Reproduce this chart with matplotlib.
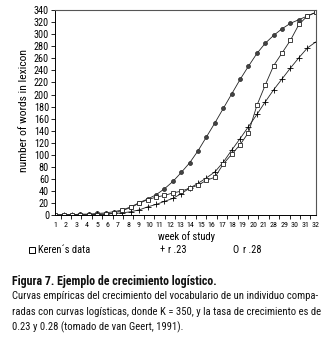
import numpy as np
import matplotlib
matplotlib.use("Agg")
import matplotlib.pyplot as plt
from matplotlib import font_manager
from matplotlib.lines import Line2D

# ---- data ----
weeks = list(range(1, 33))
keren = [0, 0, 0, 0, 1, 1, 2, 4, 8, 13, 20, 26, 30, 33, 37, 40,
         45, 50, 58, 63, 85, 101, 117, 137, 182, 216, 248, 269, 290, 316, 330, 336]
r23 = [0, 1, 1, 1, 1, 2, 2, 3, 4, 6, 9, 14, 18, 23, 28, 36,
       45, 53, 62, 72, 88, 108, 127, 147, 167, 188, 208, 226, 244, 261, 277, 287]
r28 = [1, 1, 1, 2, 2, 3, 4, 6, 9, 14, 21, 27, 34, 44, 56, 71,
       87, 107, 130, 153, 177, 201, 225, 247, 268, 285, 298, 309, 318, 324, 330, 336]
tick_labels = ["1", "2", "3", "4", "5", "6", "7", "8", "9", "10", "11", "12", "13",
               "14", "15", "16", "17", "18", "19", "20", "21", "28", "29", "30", "31", "32"]
y_ticks = list(range(0, 341, 20))

legend_labels = ["Keren\u00b4s data", "r .23", "r .28"]
title = "Figura 7. Ejemplo de crecimiento log\u00edstico."
caption = ["Curvas emp\u00edricas del crecimiento del vocabulario de un individuo compa-",
           "radas con curvas log\u00edsticas, donde K = 350, y la tasa de crecimiento es de",
           "0.23 y 0.28 (tomado de van Geert, 1991)."]


def pick_font(cands):
    for c in cands:
        try:
            font_manager.findfont(font_manager.FontProperties(family=c),
                                  fallback_to_default=False)
            return c
        except Exception:
            pass
    return "DejaVu Sans"


NARROW = pick_font(["Liberation Sans Narrow", "Arial Narrow", "DejaVu Sans Condensed",
                    "Roboto Condensed", "Liberation Sans"])
plt.rcParams['font.family'] = [NARROW, "DejaVu Sans"]

W, H = 324, 351
fig = plt.figure(figsize=(W / 100, H / 100), dpi=100)
fig.patch.set_facecolor("white")
renderer = fig.canvas.get_renderer()


def size_for(s, target_w, weight="normal"):
    t = fig.text(0, 0, s, fontsize=10, fontweight=weight)
    w = t.get_window_extent(renderer).width
    t.remove()
    return 10 * target_w / w


L, R, T, B = 55.3, 315.7, 10.0, 215.3
ax = fig.add_axes([L / W, 1 - B / H, (R - L) / W, (B - T) / H])

lw = 0.6
ax.plot(weeks, r28, color="#222222", lw=lw, marker="o", ms=2.8, mfc="#444444",
        mec="#222222", mew=0.5)
ax.plot(weeks, r23, color="#222222", lw=lw, marker="+", ms=4, mew=0.6, mec="black")
ax.plot(weeks, keren, color="#222222", lw=lw, marker="s", ms=3.3, mfc="white",
        mec="#222222", mew=0.6)

ax.set_xlim(1, 32)
ax.set_ylim(0, 340)
ax.set_yticks(y_ticks)
ysz = min(size_for("340", 15), 9.5)
ax.tick_params(axis="y", direction="out", length=3, width=0.6, labelsize=ysz, pad=1.5)

pos = np.linspace(1, 32, len(tick_labels))
ax.set_xticks(pos)
ax.set_xticklabels(tick_labels)
xsz = min(size_for("10", 7.7), 9.0)
ax.tick_params(axis="x", which="major", length=0, labelsize=xsz, pad=4.5)
ax.set_xticks((pos[:-1] + pos[1:]) / 2, minor=True)
ax.tick_params(axis="x", which="minor", direction="out", length=3, width=0.6)

for s in ["left", "bottom"]:
    ax.spines[s].set_color("black")
    ax.spines[s].set_linewidth(0.7)
for s in ["top", "right"]:
    ax.spines[s].set_color("#555555")
    ax.spines[s].set_linewidth(0.8)

lsz = min(size_for("number of words in lexicon", 122), 10)
fig.text(24 / W, 1 - 111 / H, "number of words in lexicon", fontsize=lsz,
         rotation=90, va="center", ha="center")
fig.text(186.5 / W, 1 - 237 / H, "week of study",
         fontsize=min(size_for("week of study", 57), 10), va="center", ha="center")

# legend row
legsz = min(size_for(legend_labels[0], 52), 10)
ly = 1 - 250 / H
fig.add_artist(Line2D([31.5 / W], [ly], marker="s", ms=3.8, mfc="white", mec="black",
                      mew=0.7, transform=fig.transFigure))
fig.text(38 / W, ly, legend_labels[0], fontsize=legsz, va="center", ha="left")
fig.text(160 / W, ly, "+", fontsize=legsz, va="center", ha="left")
fig.text(168 / W, ly, legend_labels[1], fontsize=legsz, va="center", ha="left")
fig.text(232 / W, ly, "O", fontsize=legsz, va="center", ha="left")
fig.text(243 / W, ly, legend_labels[2], fontsize=legsz, va="center", ha="left")

tsz = size_for(title, 205, "bold")
fig.text(12 / W, 1 - 282 / H, title, fontsize=tsz, fontweight="bold",
         va="center", ha="left", color="#111111")
csz = size_for(caption[0], 305)
ys = [296, 312, 327]
for t, y in zip(caption, ys):
    fig.text(12 / W, 1 - y / H, t, fontsize=csz, va="center", ha="left", color="#111111")

fig.savefig("out.png", dpi=100)
